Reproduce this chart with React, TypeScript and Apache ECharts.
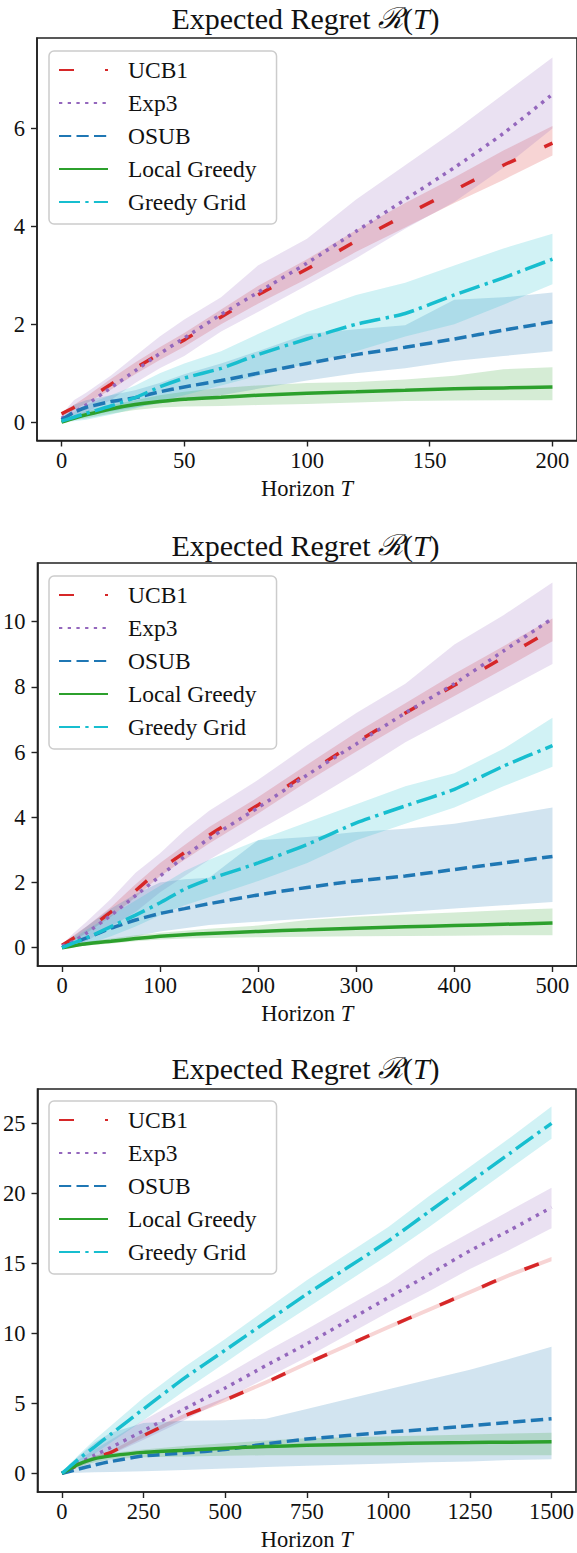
import React, { useEffect, useRef } from "react";
import * as echarts from "echarts";

// ---------- shared ----------
const NAMES = ["UCB1", "Exp3", "OSUB", "Local Greedy", "Greedy Grid"];
const COLORS = ["#d62728", "#9467bd", "#1f77b4", "#2ca02c", "#17becf"];
const BAND_COLORS = [
  "rgba(214,39,40,0.2)",
  "rgba(148,103,189,0.2)",
  "rgba(31,119,180,0.2)",
  "rgba(44,160,44,0.2)",
  "rgba(23,190,207,0.2)",
];

// ---------- chart 1 : horizon 200 ----------
const T1 = [0, 5, 10, 20, 30, 40, 50, 65, 80, 100, 120, 140, 160, 180, 200];
const X1_TICKS = [0, 50, 100, 150, 200];
const Y1_TICKS = [0, 2, 4, 6];
const c1UcbMean = [0.17, 0.3, 0.45, 0.77, 1.1, 1.4, 1.68, 2.15, 2.6, 3.13, 3.7, 4.23, 4.74, 5.25, 5.7];
const c1UcbLo = [0.14, 0.25, 0.38, 0.66, 0.98, 1.27, 1.54, 2.0, 2.42, 2.93, 3.48, 3.98, 4.48, 4.95, 5.45];
const c1UcbHi = [0.2, 0.35, 0.52, 0.88, 1.22, 1.53, 1.82, 2.3, 2.78, 3.33, 3.92, 4.48, 5.0, 5.55, 6.05];
const c1ExpMean = [0.08, 0.2, 0.35, 0.7, 1.05, 1.4, 1.72, 2.2, 2.65, 3.25, 3.9, 4.55, 5.2, 5.9, 6.7];
const c1ExpLo = [0.0, 0.05, 0.2, 0.45, 0.8, 1.1, 1.35, 1.85, 2.25, 2.8, 3.35, 3.95, 4.5, 5.2, 6.0];
const c1ExpHi = [0.15, 0.45, 0.6, 0.95, 1.35, 1.75, 2.1, 2.55, 3.2, 3.75, 4.55, 5.25, 5.95, 6.7, 7.45];
const c1OsubMean = [0.05, 0.2, 0.3, 0.42, 0.5, 0.62, 0.72, 0.85, 1.0, 1.2, 1.38, 1.53, 1.7, 1.88, 2.05];
const c1OsubLo = [0.0, 0.05, 0.12, 0.22, 0.3, 0.38, 0.45, 0.55, 0.68, 0.85, 1.0, 1.1, 1.25, 1.35, 1.45];
const c1OsubHi = [0.1, 0.35, 0.45, 0.55, 0.65, 0.8, 0.98, 1.2, 1.45, 1.8, 1.9, 1.98, 2.5, 2.55, 2.65];
const c1LgMean = [0.0, 0.08, 0.15, 0.27, 0.36, 0.42, 0.47, 0.51, 0.55, 0.59, 0.62, 0.65, 0.68, 0.7, 0.72];
const c1LgLo = [0.0, 0.04, 0.08, 0.17, 0.25, 0.3, 0.32, 0.33, 0.35, 0.37, 0.4, 0.43, 0.44, 0.45, 0.45];
const c1LgHi = [0.02, 0.12, 0.22, 0.35, 0.45, 0.55, 0.62, 0.7, 0.75, 0.8, 0.82, 0.87, 0.95, 1.08, 1.12];
const c1GgMean = [0.02, 0.1, 0.18, 0.33, 0.5, 0.72, 0.9, 1.1, 1.38, 1.7, 2.0, 2.22, 2.6, 2.95, 3.33];
const c1GgLo = [0.0, 0.02, 0.05, 0.15, 0.28, 0.42, 0.55, 0.75, 0.95, 1.2, 1.45, 1.75, 2.0, 2.4, 2.82];
const c1GgHi = [0.05, 0.2, 0.35, 0.55, 0.75, 1.0, 1.2, 1.45, 1.8, 2.25, 2.6, 2.85, 3.2, 3.55, 3.85];

// ---------- chart 2 : horizon 500 ----------
const T2 = [0, 12, 25, 50, 75, 100, 125, 150, 200, 250, 300, 350, 400, 450, 500];
const X2_TICKS = [0, 100, 200, 300, 400, 500];
const Y2_TICKS = [0, 2, 4, 6, 8, 10];
const c2UcbMean = [0.08, 0.3, 0.55, 1.1, 1.75, 2.4, 2.92, 3.45, 4.38, 5.35, 6.3, 7.2, 8.05, 8.9, 9.76];
const c2UcbLo = [0.04, 0.22, 0.45, 0.95, 1.55, 2.2, 2.7, 3.2, 4.12, 5.1, 6.02, 6.9, 7.72, 8.55, 9.4];
const c2UcbHi = [0.12, 0.38, 0.65, 1.25, 1.95, 2.6, 3.15, 3.7, 4.62, 5.62, 6.6, 7.5, 8.4, 9.25, 10.1];
const c2ExpMean = [0.05, 0.2, 0.45, 1.0, 1.6, 2.2, 2.8, 3.35, 4.3, 5.3, 6.25, 7.2, 8.1, 9.1, 10.1];
const c2ExpLo = [0.0, 0.05, 0.2, 0.65, 1.1, 1.7, 2.2, 2.7, 3.6, 4.45, 5.35, 6.3, 7.1, 7.9, 8.7];
const c2ExpHi = [0.1, 0.45, 0.8, 1.5, 2.3, 2.9, 3.6, 4.2, 5.15, 6.2, 7.2, 8.1, 9.3, 10.2, 11.2];
const c2OsubMean = [0.0, 0.15, 0.3, 0.6, 0.85, 1.05, 1.2, 1.35, 1.62, 1.85, 2.05, 2.2, 2.4, 2.6, 2.8];
const c2OsubLo = [0.0, 0.02, 0.08, 0.2, 0.35, 0.5, 0.6, 0.7, 0.8, 0.9, 1.0, 1.1, 1.2, 1.3, 1.4];
const c2OsubHi = [0.02, 0.35, 0.65, 1.2, 1.65, 2.0, 2.1, 2.15, 3.3, 3.4, 3.55, 3.65, 3.8, 4.05, 4.3];
const c2LgMean = [0.0, 0.06, 0.12, 0.2, 0.28, 0.35, 0.4, 0.44, 0.5, 0.55, 0.6, 0.64, 0.68, 0.72, 0.76];
const c2LgLo = [0.0, 0.03, 0.07, 0.13, 0.2, 0.25, 0.28, 0.3, 0.32, 0.34, 0.35, 0.36, 0.37, 0.38, 0.38];
const c2LgHi = [0.01, 0.1, 0.18, 0.28, 0.38, 0.46, 0.52, 0.58, 0.68, 0.85, 0.95, 1.02, 1.08, 1.15, 1.2];
const c2GgMean = [0.0, 0.15, 0.3, 0.65, 1.0, 1.38, 1.8, 2.1, 2.6, 3.17, 3.83, 4.35, 4.86, 5.57, 6.2];
const c2GgLo = [0.0, 0.02, 0.1, 0.35, 0.65, 1.0, 1.3, 1.55, 2.05, 2.6, 3.3, 3.8, 4.3, 4.95, 5.55];
const c2GgHi = [0.02, 0.3, 0.55, 1.0, 1.45, 1.9, 2.35, 2.7, 3.3, 3.85, 4.4, 4.95, 5.35, 6.1, 7.05];

// ---------- chart 3 : horizon 1500 ----------
const T3 = [0, 25, 50, 100, 150, 250, 375, 500, 625, 750, 1000, 1125, 1250, 1375, 1500];
const X3_TICKS = [0, 250, 500, 750, 1000, 1250, 1500];
const Y3_TICKS = [0, 5, 10, 15, 20, 25];
const c3UcbMean = [0.0, 0.3, 0.6, 1.1, 1.5, 2.7, 4.1, 5.25, 6.5, 7.85, 10.45, 11.7, 12.95, 14.2, 15.3];
const c3UcbLo = [0.0, 0.22, 0.5, 0.98, 1.38, 2.55, 3.95, 5.1, 6.35, 7.7, 10.3, 11.55, 12.8, 14.05, 15.15];
const c3UcbHi = [0.02, 0.38, 0.7, 1.22, 1.62, 2.85, 4.25, 5.4, 6.65, 8.0, 10.6, 11.85, 13.1, 14.35, 15.45];
const c3ExpMean = [0.0, 0.35, 0.7, 1.3, 1.85, 3.05, 4.6, 6.1, 7.7, 9.25, 12.55, 14.2, 15.9, 17.4, 19.0];
const c3ExpLo = [0.0, 0.2, 0.45, 0.9, 1.35, 2.4, 3.8, 5.3, 6.8, 8.3, 11.5, 13.0, 14.6, 16.0, 17.5];
const c3ExpHi = [0.05, 0.5, 0.95, 1.7, 2.4, 3.8, 5.4, 7.0, 8.7, 10.3, 13.6, 15.6, 17.2, 18.8, 20.4];
const c3OsubMean = [0.0, 0.15, 0.3, 0.6, 0.85, 1.25, 1.45, 1.7, 2.1, 2.45, 2.95, 3.15, 3.4, 3.65, 3.9];
const c3OsubLo = [0.0, 0.02, 0.05, 0.08, 0.1, 0.15, 0.25, 0.35, 0.45, 0.55, 0.7, 0.8, 0.85, 0.95, 1.0];
const c3OsubHi = [0.05, 0.6, 1.2, 2.2, 2.9, 3.6, 3.75, 3.8, 3.9, 4.6, 6.0, 6.7, 7.4, 8.2, 9.05];
const c3LgMean = [0.0, 0.35, 0.65, 1.05, 1.25, 1.5, 1.65, 1.8, 1.92, 2.0, 2.12, 2.17, 2.2, 2.23, 2.25];
const c3LgLo = [0.0, 0.2, 0.45, 0.8, 1.0, 1.15, 1.2, 1.25, 1.3, 1.3, 1.3, 1.3, 1.3, 1.3, 1.3];
const c3LgHi = [0.02, 0.45, 0.8, 1.25, 1.45, 1.7, 1.95, 2.15, 2.35, 2.5, 2.65, 2.7, 2.78, 2.85, 2.9];
const c3GgMean = [0.0, 0.5, 1.0, 1.9, 2.8, 4.6, 6.8, 8.8, 10.8, 12.8, 16.6, 18.7, 20.8, 22.9, 25.0];
const c3GgLo = [0.0, 0.3, 0.7, 1.4, 2.2, 3.8, 5.9, 7.9, 9.9, 11.8, 15.6, 17.6, 19.7, 21.8, 23.9];
const c3GgHi = [0.05, 0.7, 1.3, 2.4, 3.4, 5.4, 7.6, 9.6, 11.7, 13.8, 17.6, 19.8, 21.9, 24.0, 26.2];

const FONT = "Liberation Serif";
const TEXT_COLOR = "#111111";

const LINE_WIDTH = 3.5;
const DASHES: any[] = [[15, 31], [3.3, 5.4], [12.2, 5.3], "solid", [21, 5.3, 3.3, 5.3]];

type Panel = {
  xs: number[];
  means: number[][];
  los: number[][];
  his: number[][];
  xTicks: number[];
  yTicks: number[];
  xMin: number;
  xMax: number;
  yMin: number;
  yMax: number;
  top: number;
  height: number;
  legendTop: number;
  titleY: number;
};

const PANELS: Panel[] = [
  {
    xs: T1,
    means: [c1UcbMean, c1ExpMean, c1OsubMean, c1LgMean, c1GgMean],
    los: [c1UcbLo, c1ExpLo, c1OsubLo, c1LgLo, c1GgLo],
    his: [c1UcbHi, c1ExpHi, c1OsubHi, c1LgHi, c1GgHi],
    xTicks: X1_TICKS,
    yTicks: Y1_TICKS,
    xMin: -10,
    xMax: 210,
    yMin: -0.375,
    yMax: 7.85,
    top: 38,
    height: 402.5,
    legendTop: 51,
    titleY: 18,
  },
  {
    xs: T2,
    means: [c2UcbMean, c2ExpMean, c2OsubMean, c2LgMean, c2GgMean],
    los: [c2UcbLo, c2ExpLo, c2OsubLo, c2LgLo, c2GgLo],
    his: [c2UcbHi, c2ExpHi, c2OsubHi, c2LgHi, c2GgHi],
    xTicks: X2_TICKS,
    yTicks: Y2_TICKS,
    xMin: -25,
    xMax: 525,
    yMin: -0.56,
    yMax: 11.8,
    top: 563,
    height: 403,
    legendTop: 576,
    titleY: 545,
  },
  {
    xs: T3,
    means: [c3UcbMean, c3ExpMean, c3OsubMean, c3LgMean, c3GgMean],
    los: [c3UcbLo, c3ExpLo, c3OsubLo, c3LgLo, c3GgLo],
    his: [c3UcbHi, c3ExpHi, c3OsubHi, c3LgHi, c3GgHi],
    xTicks: X3_TICKS,
    yTicks: Y3_TICKS,
    xMin: -75,
    xMax: 1575,
    yMin: -1.33,
    yMax: 27.45,
    top: 1089,
    height: 403,
    legendTop: 1101,
    titleY: 1068,
  },
];

const GRID_LEFT = 37;
const GRID_WIDTH = 541;

function pairs(xs: number[], ys: number[]) {
  return xs.map((x, i) => [x, ys[i]]);
}

function bandSeries(gi: number, k: number, xs: number[], lo: number[], hi: number[]) {
  return {
    type: "custom",
    name: NAMES[k] + " band",
    xAxisIndex: gi,
    yAxisIndex: gi,
    silent: true,
    clip: true,
    z: 1,
    encode: { x: 0, y: [1, 2] },
    data: xs.map((x, i) => [x, lo[i], hi[i]]),
    renderItem: (params: any, api: any) => {
      if (params.dataIndex !== 0) return null;
      const pts: number[][] = [];
      for (let i = 0; i < xs.length; i++) pts.push(api.coord([xs[i], lo[i]]));
      for (let i = xs.length - 1; i >= 0; i--) pts.push(api.coord([xs[i], hi[i]]));
      return {
        type: "polygon",
        shape: { points: pts },
        style: { fill: BAND_COLORS[k], stroke: "none" },
      };
    },
  };
}

const numRich = {
  n: { fontFamily: FONT, fontSize: 22.5, color: TEXT_COLOR },
};

function buildOption() {
  const grid: any[] = [];
  const xAxis: any[] = [];
  const yAxis: any[] = [];
  const series: any[] = [];
  const legend: any[] = [];
  const graphic: any[] = [];

  PANELS.forEach((p, gi) => {
    grid.push({
      left: GRID_LEFT,
      top: p.top,
      width: GRID_WIDTH,
      height: p.height,
      show: true,
      borderColor: "#222",
      borderWidth: 1.6,
      backgroundColor: "transparent",
    });
    xAxis.push({
      type: "value",
      gridIndex: gi,
      min: p.xMin,
      max: p.xMax,
      splitLine: { show: false },
      axisLine: { show: true, onZero: false, lineStyle: { color: "#222", width: 1.6 } },
      axisTick: { show: true, length: 6, lineStyle: { color: "#222", width: 1.4 }, customValues: p.xTicks },
      axisLabel: {
        show: true,
        customValues: p.xTicks,
        formatter: (v: number) => "{n|" + String(v) + "}",
        margin: 8,
        fontFamily: FONT,
        fontSize: 22.5,
        color: TEXT_COLOR,
        rich: numRich,
      },
      name: "Horizon {i|T}",
      nameLocation: "middle",
      nameGap: 36,
      nameTextStyle: {
        fontFamily: FONT,
        fontSize: 22.5,
        color: TEXT_COLOR,
        rich: {
          i: { fontFamily: FONT, fontSize: 22.5, fontStyle: "italic", color: TEXT_COLOR },
        },
      },
    });
    yAxis.push({
      type: "value",
      gridIndex: gi,
      min: p.yMin,
      max: p.yMax,
      splitLine: { show: false },
      axisLine: { show: true, onZero: false, lineStyle: { color: "#222", width: 1.6 } },
      axisTick: { show: true, length: 6, lineStyle: { color: "#222", width: 1.4 }, customValues: p.yTicks },
      axisLabel: {
        show: true,
        customValues: p.yTicks,
        formatter: (v: number) => "{n|" + String(v) + "}",
        margin: 12,
        fontFamily: FONT,
        fontSize: 22.5,
        color: TEXT_COLOR,
        rich: numRich,
      },
    });

    // uncertainty bands
    NAMES.forEach((_name, k) => {
      series.push(bandSeries(gi, k, p.xs, p.los[k], p.his[k]));
    });

    // mean lines
    NAMES.forEach((name, k) => {
      series.push({
        type: "line",
        name,
        xAxisIndex: gi,
        yAxisIndex: gi,
        data: pairs(p.xs, p.means[k]),
        symbol: "none",
        showSymbol: false,
        smooth: 0.2,
        itemStyle: { color: COLORS[k] },
        lineStyle: { color: COLORS[k], width: LINE_WIDTH, type: DASHES[k], cap: "butt" },
        z: 3,
      });
    });

    legend.push({
      data: NAMES,
      orient: "vertical",
      left: 49,
      top: p.legendTop,
      itemWidth: 49,
      itemHeight: 14,
      itemGap: 9,
      padding: [7, 20, 10, 9],
      backgroundColor: "rgba(255,255,255,0.8)",
      borderColor: "#cccccc",
      borderWidth: 1.5,
      borderRadius: 5,
      selectedMode: false,
      itemStyle: { opacity: 0 },
      formatter: (name: string) => "{t|" + name + "}",
      textStyle: {
        fontFamily: FONT,
        fontSize: 23.5,
        color: TEXT_COLOR,
        lineHeight: 24,
        padding: [0, 0, 0, 15],
        rich: {
          t: { fontFamily: FONT, fontSize: 23.5, color: TEXT_COLOR, lineHeight: 24 },
        },
      },
      z: 10,
    });

    graphic.push({
      type: "text",
      x: GRID_LEFT + GRID_WIDTH / 2 - 2,
      y: p.titleY,
      z: 20,
      style: {
        text: "Expected Regret {r|ℛ}({i|T})",
        fontFamily: FONT,
        fontSize: 30,
        fill: TEXT_COLOR,
        align: "center",
        verticalAlign: "middle",
        rich: {
          r: { fontFamily: "DejaVu Serif", fontSize: 29, fontStyle: "italic", fill: TEXT_COLOR },
          i: { fontFamily: FONT, fontSize: 30, fontStyle: "italic", fill: TEXT_COLOR },
        },
      },
    });
  });

  return {
    animation: false,
    backgroundColor: "#ffffff",
    textStyle: { fontFamily: FONT },
    grid,
    xAxis,
    yAxis,
    series,
    legend,
    graphic,
  };
}

export default function App() {
  const ref = useRef<HTMLDivElement>(null);
  useEffect(() => {
    if (!ref.current) return;
    const chart = echarts.init(ref.current, undefined, { renderer: "svg" });
    chart.setOption(buildOption());
    return () => chart.dispose();
  }, []);
  return (
    <div
      ref={ref}
      style={{ position: "absolute", left: 0, top: 0, width: 577, height: 1553, background: "#fff" }}
    />
  );
}
